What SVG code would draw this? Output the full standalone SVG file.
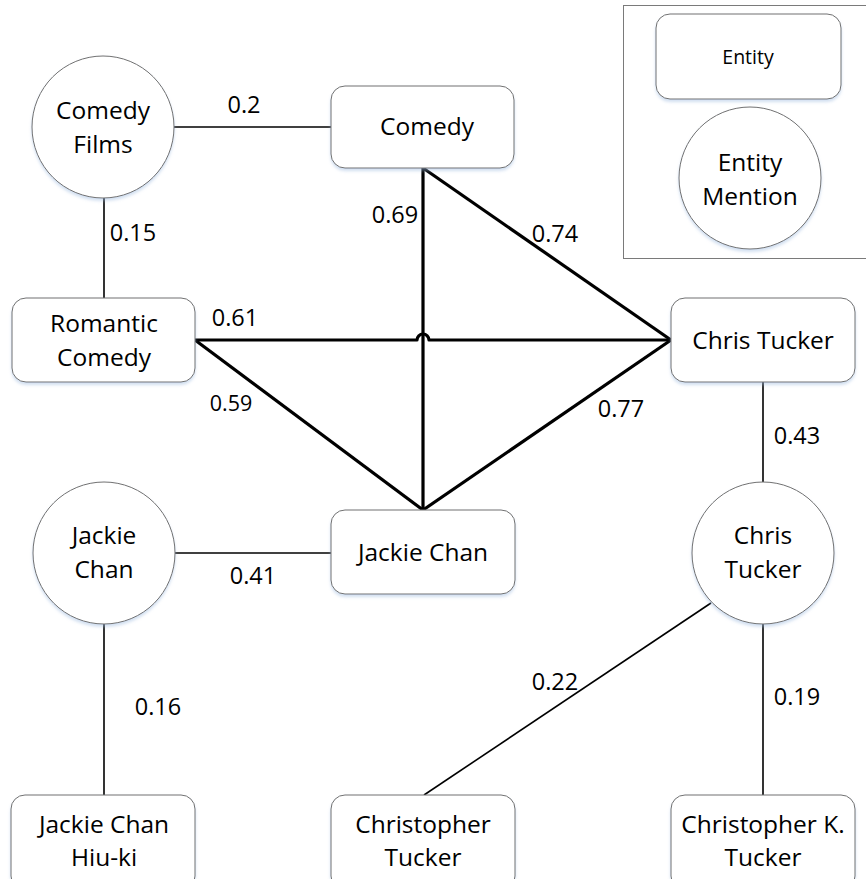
<svg xmlns="http://www.w3.org/2000/svg" width="866" height="879" viewBox="0 0 866 879">
  <style>
    .ent { fill: #ffffff; stroke: #707070; stroke-width: 1; }
    .men { fill: #ffffff; stroke: #707070; stroke-width: 1; }
    .t { font-family: "Open Sans", "Noto Sans", sans-serif; font-size: 24.5px; fill: #000; text-anchor: middle; }
    .lbl { font-family: "Open Sans", "Noto Sans", sans-serif; font-size: 23.5px; fill: #000; text-anchor: middle; }
    .thin { stroke: #000; stroke-width: 1.6; fill: none; }
    .thick { stroke: #000; stroke-width: 3.2; fill: none; stroke-linejoin: round; }
  </style>
  <defs>
    <filter id="sh" x="-10%" y="-10%" width="120%" height="130%">
      <feDropShadow dx="0" dy="2.5" stdDeviation="1.5" flood-color="#9ab8de" flood-opacity="0.45"/>
    </filter>
  </defs>
  <rect width="866" height="879" fill="#ffffff"/>

  <!-- legend -->
  <g id="legend">
    <rect x="623.5" y="5.5" width="250" height="253" fill="#fff" stroke="#7a7a7a" stroke-width="1"/>
    <rect class="ent" x="656" y="14" width="185" height="85" rx="14" filter="url(#sh)"/>
    <text class="t" x="748" y="64" style="font-size:19.5px">Entity</text>
    <circle class="men" cx="750" cy="178" r="71" filter="url(#sh)"/>
    <text class="t" x="750" y="171" style="font-size:24.5px">Entity</text>
    <text class="t" x="750" y="205" style="font-size:24.5px">Mention</text>
  </g>

  <!-- connectors -->
  <g id="edges">
    <line class="thin" x1="174" y1="127" x2="331" y2="127"/>
    <line class="thin" x1="104" y1="198" x2="104" y2="298"/>
    <line class="thin" x1="763" y1="382" x2="763" y2="482"/>
    <line class="thin" x1="175" y1="553" x2="331" y2="553"/>
    <line class="thin" x1="104" y1="624" x2="104" y2="795"/>
    <line class="thin" x1="711" y1="603" x2="424" y2="795"/>
    <line class="thin" x1="763" y1="624" x2="763" y2="795"/>
    <line class="thick" x1="423" y1="168" x2="423" y2="510"/>
    <line class="thick" x1="423" y1="168" x2="671" y2="340"/>
    <line class="thick" x1="671" y1="340" x2="423" y2="510"/>
    <line class="thick" x1="195" y1="340" x2="423" y2="510"/>
    <path class="thick" d="M195 340 H417 A6 6 0 0 1 429 340 H671"/>
  </g>

  <g id="edge-labels">
    <text class="lbl" x="244" y="113">0.2</text>
    <text class="lbl" x="133" y="241">0.15</text>
    <text class="lbl" x="395" y="223">0.69</text>
    <text class="lbl" x="555" y="242">0.74</text>
    <text class="lbl" x="235" y="326">0.61</text>
    <text class="lbl" x="231" y="411" style="font-size:21.5px">0.59</text>
    <text class="lbl" x="621" y="417">0.77</text>
    <text class="lbl" x="797" y="444">0.43</text>
    <text class="lbl" x="253" y="584">0.41</text>
    <text class="lbl" x="158" y="715">0.16</text>
    <text class="lbl" x="555" y="690">0.22</text>
    <text class="lbl" x="797" y="705">0.19</text>
  </g>

  <!-- entity mentions -->
  <g id="comedy-films">
    <circle class="men" cx="103" cy="127" r="71" filter="url(#sh)"/>
    <text class="t" x="103" y="119">Comedy</text>
    <text class="t" x="103" y="153">Films</text>
  </g>
  <g id="jackie-chan-mention">
    <circle class="men" cx="104" cy="553" r="71" filter="url(#sh)"/>
    <text class="t" x="104" y="544">Jackie</text>
    <text class="t" x="104" y="578">Chan</text>
  </g>
  <g id="chris-tucker-mention">
    <circle class="men" cx="763" cy="553" r="71" filter="url(#sh)"/>
    <text class="t" x="763" y="544">Chris</text>
    <text class="t" x="763" y="578">Tucker</text>
  </g>

  <!-- entities -->
  <g id="comedy">
    <rect class="ent" x="331" y="86" width="183" height="82" rx="14" filter="url(#sh)"/>
    <text class="t" x="427" y="135">Comedy</text>
  </g>
  <g id="romantic-comedy">
    <rect class="ent" x="12" y="298" width="183" height="84" rx="14" filter="url(#sh)"/>
    <text class="t" x="104" y="332">Romantic</text>
    <text class="t" x="104" y="366">Comedy</text>
  </g>
  <g id="chris-tucker">
    <rect class="ent" x="671" y="298" width="184" height="84" rx="14" filter="url(#sh)"/>
    <text class="t" x="763" y="349">Chris Tucker</text>
  </g>
  <g id="jackie-chan">
    <rect class="ent" x="331" y="510" width="184" height="84" rx="14" filter="url(#sh)"/>
    <text class="t" x="423" y="561">Jackie Chan</text>
  </g>
  <g id="jackie-chan-hiu-ki">
    <rect class="ent" x="11" y="795" width="184" height="95" rx="14" filter="url(#sh)"/>
    <text class="t" x="104" y="833">Jackie Chan</text>
    <text class="t" x="104" y="866">Hiu-ki</text>
  </g>
  <g id="christopher-tucker">
    <rect class="ent" x="331" y="795" width="184" height="95" rx="14" filter="url(#sh)"/>
    <text class="t" x="423" y="833">Christopher</text>
    <text class="t" x="423" y="866">Tucker</text>
  </g>
  <g id="christopher-k-tucker">
    <rect class="ent" x="671" y="795" width="184" height="95" rx="14" filter="url(#sh)"/>
    <text class="t" x="763" y="833">Christopher K.</text>
    <text class="t" x="763" y="866">Tucker</text>
  </g>
</svg>
